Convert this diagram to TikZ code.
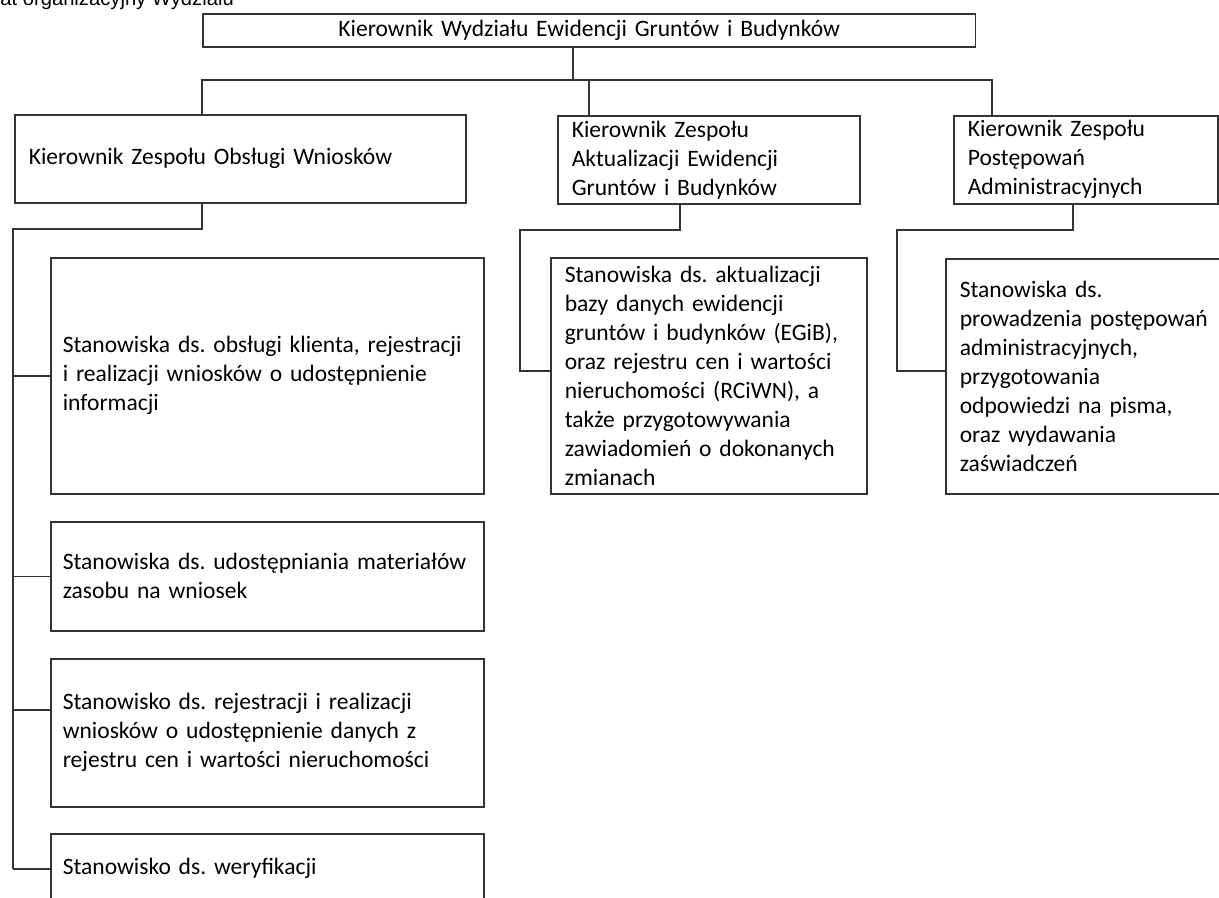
\documentclass[tikz,border=0pt]{standalone}
\usepackage{fontspec}
\setmainfont{Carlito}
\newfontfamily\titlefont{Liberation Sans}
\frenchspacing

\begin{document}
\begin{tikzpicture}[x=0.02cm,y=-0.02cm,
  box/.style={draw=black!80,line width=0.9pt,anchor=north west,align=left,
    inner xsep=0.28cm,inner ysep=0pt,font=\fontsize{13.4}{16.5}\selectfont},
  link/.style={draw=black!80,line width=0.9pt}]
\useasboundingbox (0,0) rectangle (1219,897);
\node[anchor=base east,font=\titlefont\fontsize{11.5}{14}\selectfont] (title) at (240,5) {Schemat organizacyjny Wydziału};

% kierownik wydzialu
\node[box,align=center,text width=14.9cm,minimum height=0.66cm] (kw) at (202,13) {Kierownik Wydziału Ewidencji Gruntów i Budynków};

% kierownicy zespolow
\node[box,text width=8.46cm,minimum height=1.76cm] (zow) at (14,114) {Kierownik Zespołu Obsługi Wniosków};
\node[box,text width=5.48cm,minimum height=1.76cm] (zae) at (557,115) {Kierownik Zespołu\\Aktualizacji Ewidencji\\Gruntów i Budynków};
\node[box,text width=4.72cm,minimum height=1.76cm] (zpa) at (953,115) {Kierownik Zespołu\\Postępowań\\Administracyjnych};

% stanowiska
\node[box,inner xsep=0.24cm,text width=8.18cm,minimum height=4.72cm] (a1) at (50,257) {Stanowiska ds. obsługi klienta, rejestracji\\i realizacji wniosków o udostępnienie\\informacji};
\node[box,inner xsep=0.24cm,text width=8.18cm,minimum height=2.18cm] (a2) at (50,521) {Stanowiska ds. udostępniania materiałów\\zasobu na wniosek};
\node[box,inner xsep=0.24cm,text width=8.18cm,minimum height=2.96cm] (a3) at (50,658) {Stanowisko ds. rejestracji i realizacji\\wniosków o udostępnienie danych z\\rejestru cen i wartości nieruchomości};
\node[box,inner xsep=0.24cm,text width=8.18cm,minimum height=1.4cm] (a4) at (50,833) {Stanowisko ds. weryfikacji};
\node[box,text width=5.76cm,minimum height=4.72cm] (sad) at (550,257) {Stanowiska ds. aktualizacji\\bazy danych ewidencji\\gruntów i budynków (EGiB),\\oraz rejestru cen i wartości\\nieruchomości (RCiWN), a\\także przygotowywania\\zawiadomień o dokonanych\\zmianach};
\node[box,text width=5.44cm,minimum height=4.7cm] (spa) at (945,258) {Stanowiska ds.\\prowadzenia postępowań\\administracyjnych,\\przygotowania\\odpowiedzi na pisma,\\oraz wydawania\\zaświadczeń};

% linie
\coordinate (jt) at (573,80);
\coordinate (jl) at (202,80);
\coordinate (jm) at (589,80);
\coordinate (jr) at (992,80);
\draw[link] (kw.south -| jt) -- (jt);
\draw[link] (zow.north -| jl) -- (jl) -- (jr) -- (zpa.north -| jr);
\draw[link] (jm) -- (zae.north -| jm);

\coordinate (sl) at (202,229);
\coordinate (sp) at (13,229);
\coordinate (t3) at (13,710);
\draw[link] (zow.south -| sl) -- (sl) -- (sp) -- (sp |- a4.west);
\foreach \n in {a1,a2,a4} \draw[link] (sp |- \n.west) -- (\n.west);
\draw[link] (t3) -- (a3.west |- t3);

\coordinate (sm) at (680,230);
\coordinate (km) at (520,230);
\draw[link] (zae.south -| sm) -- (sm) -- (km) |- ([yshift=0.1cm]sad.west);

\coordinate (sr) at (1073,230);
\coordinate (kr) at (897,230);
\draw[link] (zpa.south -| sr) -- (sr) -- (kr) |- ([yshift=0.1cm]spa.west);
\end{tikzpicture}
\end{document}
